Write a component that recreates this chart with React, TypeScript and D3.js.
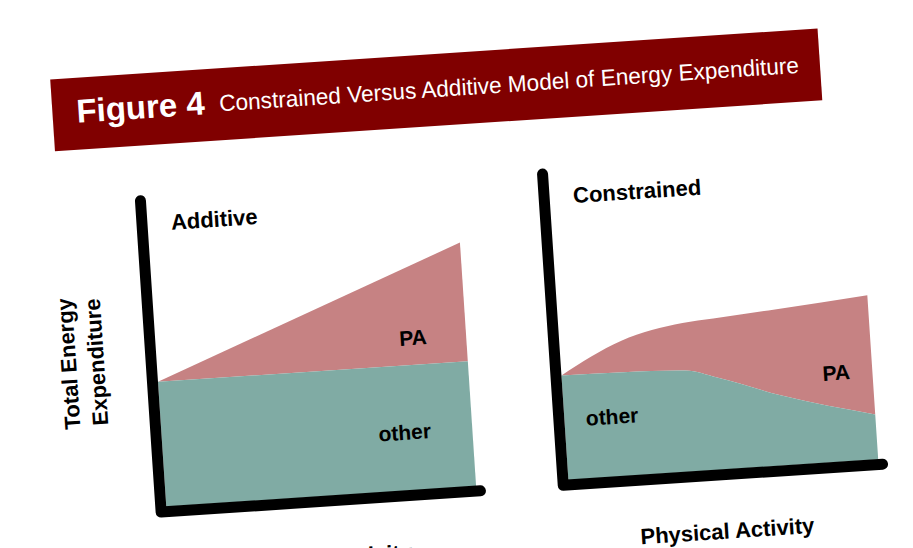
import React from 'react';
import * as d3 from 'd3';

// values (arbitrary units, 0-10 on both axes)
const additiveX = [0, 10];
const additiveOther = [4, 4];
const additiveTotal = [4, 7.8];

const constrainedX = [0, 2, 4, 5, 7, 10];
const constrainedOther = [3.35, 3.32, 3.24, 2.95, 2.25, 1.44];
const constrainedTotal = [3.35, 4.33, 4.76, 4.84, 5.0, 5.26];

const panelTitles = ['Additive', 'Constrained'];
const xLabel = 'Physical Activity';
const yLabel = ['Total Energy', 'Expenditure'];

const FONT = '"Liberation Sans", Arial, Helvetica, sans-serif';
const PINK = '#c68283';
const TEAL = '#80aba4';
const RED = '#800000';

type PanelProps = {
  left: number;
  title: string;
  xs: number[];
  other: number[];
  total: number[];
  curve: d3.CurveFactory;
  paPos: [number, number];
  otherPos: [number, number];
};

const Panel: React.FC<PanelProps> = ({ left, title, xs, other, total, curve, paPos, otherPos }) => {
  const axisX = left;
  const axisY = 492;
  const x = d3.scaleLinear().domain([0, 10]).range([left + 5.5, left + 316]);
  const y = d3.scaleLinear().domain([0, 10]).range([axisY - 5, 174]);

  const rows = xs.map((v, i) => ({ x: v, other: other[i], total: total[i] }));

  const otherArea = d3.area<typeof rows[0]>()
    .x(d => x(d.x))
    .y0(y(0))
    .y1(d => y(d.other))
    .curve(curve);

  const paArea = d3.area<typeof rows[0]>()
    .x(d => x(d.x))
    .y0(d => y(d.other))
    .y1(d => y(d.total))
    .curve(curve);

  return (
    <g>
      <path d={paArea(rows) ?? ''} fill={PINK} />
      <path d={otherArea(rows) ?? ''} fill={TEAL} />
      <path
        d={`M${axisX},180 L${axisX},${axisY} L${x(10) + 4},${axisY}`}
        fill="none"
        stroke="#000"
        strokeWidth={11}
        strokeLinecap="round"
        strokeLinejoin="round"
      />
      <text x={left + 29} y={211} fontSize={22} fontWeight="bold">{title}</text>
      <text x={paPos[0]} y={paPos[1]} fontSize={21} fontWeight="bold">PA</text>
      <text x={otherPos[0]} y={otherPos[1]} fontSize={21} fontWeight="bold">other</text>
      <text x={(x(0) + x(10)) / 2} y={556} fontSize={22} fontWeight="bold" textAnchor="middle">{xLabel}</text>
    </g>
  );
};

const App: React.FC = () => {
  return (
    <svg
      width={913}
      height={548}
      viewBox="0 0 913 548"
      style={{ position: 'absolute', left: 0, top: 0, background: '#fff' }}
      fontFamily={FONT}
    >
      <rect width={913} height={548} fill="#fff" />
      <g transform="rotate(-3.8, 456, 274)">
        {/* banner */}
        <rect x={64} y={53} width={769} height={72} fill={RED} />
        <text x={88} y={98} fill="#fff" fontSize={33} fontWeight="bold">Figure 4</text>
        <text x={231} y={96} fill="#fff" fontSize={23} textLength={581} lengthAdjust="spacingAndGlyphs">
          Constrained Versus Additive Model of Energy Expenditure
        </text>

        {/* y label */}
        <g transform="translate(71,338) rotate(-90)">
          <text x={0} y={0} fontSize={22} fontWeight="bold" textAnchor="middle">{yLabel[0]}</text>
          <text x={0} y={28} fontSize={22} fontWeight="bold" textAnchor="middle">{yLabel[1]}</text>
        </g>

        <Panel
          left={146}
          title={panelTitles[0]}
          xs={additiveX}
          other={additiveOther}
          total={additiveTotal}
          curve={d3.curveLinear}
          paPos={[395, 342]}
          otherPos={[368, 436]}
        />
        <Panel
          left={549}
          title={panelTitles[1]}
          xs={constrainedX}
          other={constrainedOther}
          total={constrainedTotal}
          curve={d3.curveMonotoneX}
          paPos={[815, 405]}
          otherPos={[576, 434]}
        />
      </g>
    </svg>
  );
};

export default App;
